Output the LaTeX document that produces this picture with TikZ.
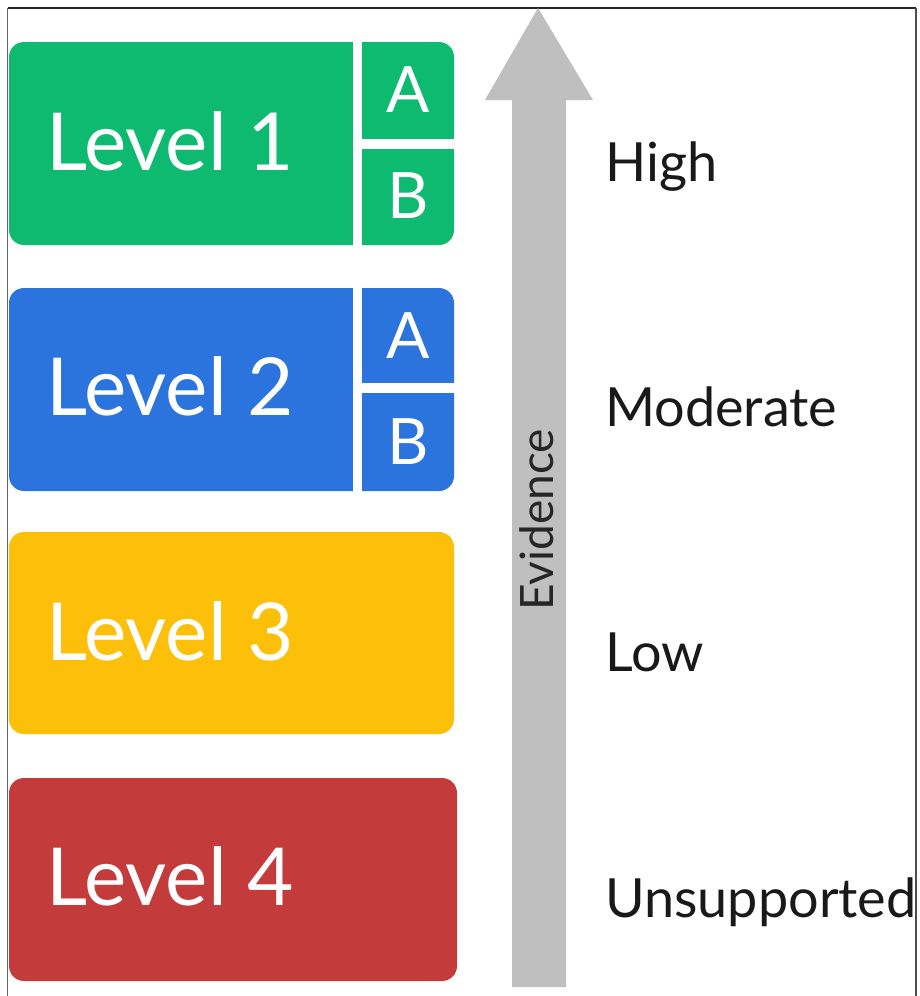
\documentclass[tikz,border=0pt]{standalone}
\usepackage{fontspec}
\setmainfont{Lato}
\definecolor{lgreen}{HTML}{0DBA6F}
\definecolor{lblue}{HTML}{2B74DE}
\definecolor{lyellow}{HTML}{FDC00A}
\definecolor{lred}{HTML}{C43B3C}
\definecolor{arrowgray}{HTML}{BFBFBF}
\begin{document}
\begin{tikzpicture}[x=1pt,y=-1pt,
  levelbox/.style={rounded corners=15pt},
  gap/.style={fill=white,draw=none},
  leveltext/.style={anchor=base west,text=white,font=\fontsize{80}{80}\selectfont,inner sep=0pt},
  subtext/.style={anchor=base,text=white,font=\fontsize{64}{64}\selectfont,inner sep=0pt},
  label/.style={anchor=base west,text=black!90,font=\fontsize{54}{54}\selectfont,inner sep=0pt}]
\useasboundingbox (0,0) rectangle (919,996);
\fill[white] (0,0) rectangle (919,996);
% frame
\draw[line width=1.5pt,black!60] (7.5,8) -- (7.5,996);
\draw[line width=1.5pt,black!85] (7.5,8) -- (916,8);
% level 1
\fill[lgreen,levelbox] (9,42) rectangle (454,245);
\fill[gap] (353,40) rectangle (362,247);
\fill[gap] (362,139) rectangle (456,149);
% level 2
\fill[lblue,levelbox] (9,288) rectangle (454,491);
\fill[gap] (353,286) rectangle (362,493);
\fill[gap] (362,383) rectangle (456,393);
% level 3
\fill[lyellow,levelbox] (9,532) rectangle (454,734);
% level 4
\fill[lred,levelbox] (9,778) rectangle (457,981);
% texts in boxes
\node[leveltext] (l1) at (46,170) {Level 1};
\node[leveltext] (l2) at (46,415) {Level 2};
\node[leveltext] (l3) at (46,660) {Level 3};
\node[leveltext] (l4) at (46,905) {Level 4};
\node[subtext] (a1) at (408,112) {A};
\node[subtext] (b1) at (408,218) {B};
\node[subtext] (a2) at (408,358) {A};
\node[subtext] (b2) at (408,464) {B};
% arrow
\fill[arrowgray] (538,8) -- (593,100) -- (566,100) -- (566,987) -- (512,987) -- (512,100) -- (485,100) -- cycle;
\node[rotate=90,anchor=base,font=\fontsize{46}{46}\selectfont,text=black!85,inner sep=0pt] (ev) at (553,520) {Evidence};
% labels
\node[label] (hi) at (605,181) {High};
\node[label] (mo) at (605,426) {Moderate};
\node[label] (lo) at (605,671) {Low};
\node[label] (un) at (605,917) {Unsupported};
% right frame line over text
\fill[white] (917,0) rectangle (919,996);
\draw[line width=1.5pt,black!70] (916,8) -- (916,996);
\end{tikzpicture}
\end{document}
